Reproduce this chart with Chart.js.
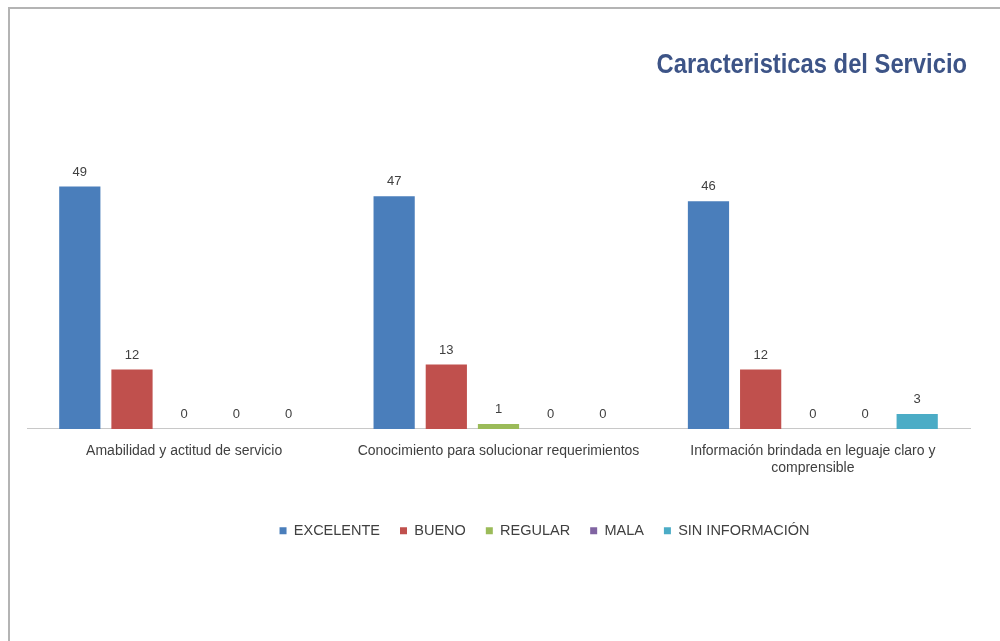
<!DOCTYPE html>
<html lang="es">
<head>
<meta charset="utf-8">
<title>Caracteristicas del Servicio</title>
<script src="https://cdn.jsdelivr.net/npm/chart.js@4.4.1/dist/chart.umd.min.js"></script>
<style>
  html, body { margin: 0; padding: 0; background: #ffffff; overflow: hidden; }
  #frame {
    position: absolute; left: 8px; top: 7px; width: 1100px; height: 700px;
    border-left: 2px solid #b4b4b4; border-top: 2px solid #b4b4b4;
  }
  #wrap { position: absolute; left: 0; top: 0; width: 1000px; height: 641px; }
</style>
</head>
<body>
<div id="frame"></div>
<div id="wrap"><canvas id="chart" width="1000" height="641"></canvas></div>
<script>
// Categories and responses per rating
const categories = [
  'Amabilidad y actitud de servicio',
  'Conocimiento para solucionar requerimientos',
  ['Información brindada en leguaje claro y', 'comprensible']
];
const excelente = [49, 47, 46];
const bueno = [12, 13, 12];
const regular = [0, 1, 0];
const mala = [0, 0, 0];
const sinInformacion = [0, 0, 3];

const seriesNames = ['EXCELENTE', 'BUENO', 'REGULAR', 'MALA', 'SIN INFORMACIÓN'];
const seriesColors = ['#4a7ebb', '#c0504d', '#9bbb59', '#8064a2', '#4bacc6'];
const seriesData = [excelente, bueno, regular, mala, sinInformacion];

const TITLE = 'Caracteristicas del Servicio';
const FONT = '"Liberation Sans", Arial, sans-serif';

// Value labels above each bar
const valueLabels = {
  id: 'valueLabels',
  afterDatasetsDraw(chart) {
    const ctx = chart.ctx;
    ctx.save();
    ctx.font = '13px ' + FONT;
    ctx.fillStyle = '#404040';
    ctx.textAlign = 'center';
    ctx.textBaseline = 'bottom';
    chart.data.datasets.forEach((ds, i) => {
      chart.getDatasetMeta(i).data.forEach((bar, j) => {
        ctx.fillText(String(ds.data[j]), bar.x, bar.y - 8);
      });
    });
    ctx.restore();
  }
};

// Chart heading, right-aligned and slightly condensed
const heading = {
  id: 'heading',
  afterDraw(chart) {
    const ctx = chart.ctx;
    ctx.save();
    ctx.font = 'bold 27px ' + FONT;
    ctx.fillStyle = '#3d5487';
    ctx.textAlign = 'right';
    ctx.textBaseline = 'alphabetic';
    ctx.translate(967, 73);
    ctx.scale(0.88, 1);
    ctx.fillText(TITLE, 0, 0);
    ctx.restore();
  }
};

// Legend row sits a little right of centre
const legendOffset = {
  id: 'legendOffset',
  afterLayout(chart) {
    if (chart.legend) {
      chart.legend.left += 46;
      chart.legend.right += 46;
    }
  }
};

new Chart(document.getElementById('chart'), {
  type: 'bar',
  data: {
    labels: categories,
    datasets: seriesNames.map((name, i) => ({
      label: name,
      data: seriesData[i],
      backgroundColor: seriesColors[i],
      borderWidth: 0,
      categoryPercentage: 0.83,
      barPercentage: 0.79
    }))
  },
  options: {
    responsive: false,
    animation: false,
    layout: { padding: { left: 27, right: 30, top: 132, bottom: 93 } },
    scales: {
      x: {
        grid: { display: false, drawTicks: false },
        border: { display: true, color: '#c8c8c8', width: 1 },
        ticks: {
          color: '#404040',
          font: { family: FONT, size: 14 },
          padding: 14,
          maxRotation: 0,
          autoSkip: false
        },
        afterFit(scale) { scale.height += 13; }
      },
      y: {
        display: false,
        min: 0,
        max: 60
      }
    },
    plugins: {
      legend: {
        position: 'bottom',
        labels: {
          color: '#404040',
          font: { family: FONT, size: 14.5 },
          boxWidth: 7,
          boxHeight: 7,
          padding: 20
        }
      },
      title: { display: false },
      tooltip: { enabled: false }
    }
  },
  plugins: [valueLabels, heading, legendOffset]
});
</script>
</body>
</html>
